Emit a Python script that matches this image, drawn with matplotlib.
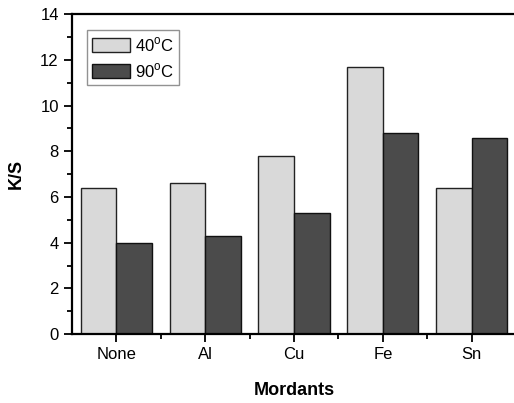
import matplotlib
matplotlib.use("Agg")
import matplotlib.pyplot as plt
import numpy as np
from matplotlib.ticker import MultipleLocator, FixedLocator

plt.rcParams['font.family'] = ['Liberation Sans', 'DejaVu Sans']
plt.rcParams['mathtext.fontset'] = 'custom'
plt.rcParams['mathtext.rm'] = 'Liberation Sans'

mordants = ["None", "Al", "Cu", "Fe", "Sn"]
ks_40 = [6.4, 6.6, 7.8, 11.7, 6.4]
ks_90 = [4.0, 4.3, 5.3, 8.8, 8.6]

fig = plt.figure(figsize=(5.14, 4.03), dpi=100)
ax = fig.add_axes([0.140, 0.171, 0.864, 0.794])

x = np.arange(1, len(mordants) + 1)
w = 0.4
ax.bar(x - w / 2, ks_40, w, color="#d9d9d9", edgecolor="#222222", linewidth=1.0,
       label=r"40$^\mathrm{o}$C")
ax.bar(x + w / 2, ks_90, w, color="#4b4b4b", edgecolor="#111111", linewidth=1.0,
       label=r"90$^\mathrm{o}$C")

ax.set_xlim(0.5, 5.5)
ax.set_ylim(0, 14)
ax.set_xticks(x)
ax.set_xticklabels(mordants)
ax.xaxis.set_minor_locator(FixedLocator(x[:-1] + 0.5))
ax.yaxis.set_major_locator(MultipleLocator(2))
ax.yaxis.set_minor_locator(MultipleLocator(1))

ax.tick_params(axis="both", which="major", direction="out", length=6, width=1.3,
               labelsize=12)
ax.tick_params(axis="both", which="minor", direction="out", length=3.5, width=1.3)
ax.tick_params(top=False, right=False, which="both")

for side in ["left", "bottom", "top"]:
    ax.spines[side].set_linewidth(1.6)
ax.spines["right"].set_visible(False)

ax.set_ylabel("K/S", fontsize=13, fontweight="bold", labelpad=11)
ax.set_xlabel("Mordants", fontsize=13, fontweight="bold", labelpad=14)

leg = ax.legend(loc="upper left", bbox_to_anchor=(0.034, 0.95), fontsize=12,
                fancybox=False, edgecolor="#777777", handlelength=2.3,
                handleheight=0.9, handletextpad=0.3, borderpad=0.3,
                labelspacing=0.45, borderaxespad=0)
leg.get_frame().set_linewidth(1.0)

fig.savefig("out.png", dpi=100)
